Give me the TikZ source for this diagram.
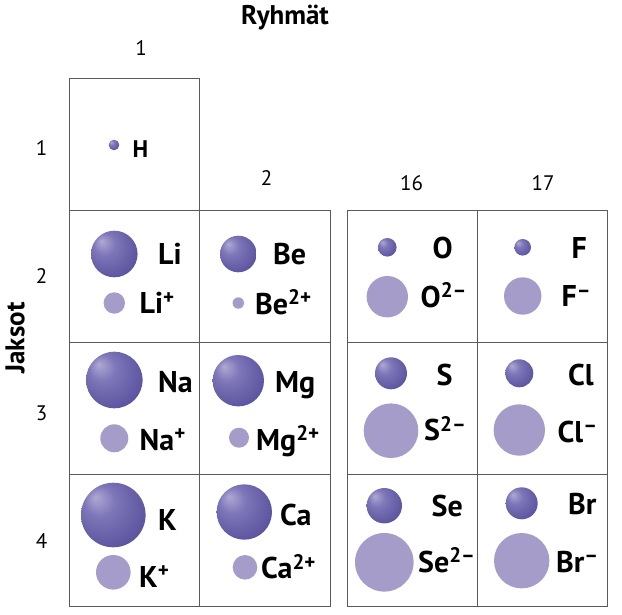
\documentclass[tikz,border=0pt]{standalone}
\usepackage{fontspec}
\setmainfont{PT Sans}
\definecolor{atomdark}{HTML}{5B539E}
\definecolor{atommid}{HTML}{7D76B8}
\definecolor{atomlight}{HTML}{AFA9D3}
\definecolor{ioncol}{HTML}{A59CC9}
\definecolor{gridcol}{HTML}{5A5A5A}
\pgfdeclareradialshading{atomshade}{\pgfpoint{-14bp}{14bp}}{%
  color(0bp)=(atomlight); color(12bp)=(atommid); color(32bp)=(atomdark); color(50bp)=(atomdark)}
\tikzset{
  atom/.style={circle, inner sep=0pt, minimum size=#1, shading=atomshade, draw=none},
  ion/.style={circle, inner sep=0pt, minimum size=#1, fill=ioncol, draw=none},
  sym/.style={anchor=base west, inner sep=0pt, font=\fontsize{30}{32}\selectfont\bfseries},
  num/.style={inner sep=0pt, font=\fontsize{21}{24}\selectfont},
  head/.style={inner sep=0pt, font=\fontsize{27}{30}\selectfont\bfseries},
  cell/.style={draw=gridcol, line width=0.9pt}
}
\newcommand{\chg}[1]{\textsuperscript{#1}}
\begin{document}
\begin{tikzpicture}[x=1pt,y=-1pt]
\useasboundingbox (0,0) rectangle (622,614);
% grid
\draw[cell] (69,78) rectangle (199,210);
\draw[cell] (69,210) rectangle (330,606);
\draw[cell] (199,210) -- (199,606);
\draw[cell] (69,342) -- (330,342);
\draw[cell] (69,474) -- (330,474);
\draw[cell] (347,210) rectangle (607,606);
\draw[cell] (477,210) -- (477,606);
\draw[cell] (347,342) -- (607,342);
\draw[cell] (347,474) -- (607,474);
% headings
\node[head] (ryh) at (285,18) {Ryhmät};
\node[head, rotate=90] (jak) at (15,338) {Jaksot};
\node[num] (g1) at (141,48) {1};
\node[num] (g2) at (266.5,178) {2};
\node[num] (g16) at (411.5,183) {16};
\node[num] (g17) at (543,183) {17};
\node[num] (p1) at (41.5,148.5) {1};
\node[num] (p2) at (41.5,276.5) {2};
\node[num] (p3) at (41.5,413) {3};
\node[num] (p4) at (41.5,541.5) {4};
% H
\node[atom=10.6pt] (H) at (114,145) {};
\node[sym, font=\fontsize{24}{26}\selectfont\bfseries] (HL) at (132.5,157) {H};
% Li
\node[atom=46.6pt] (Li) at (114.3,254) {};
\node[sym] (LiL) at (158,264.5) {Li};
\node[ion=21.4pt] (Lii) at (114.3,303) {};
\node[sym] (LiiL) at (139.5,313.5) {Li\chg{+}};
% Be
\node[atom=36.6pt] (Be) at (238.3,254) {};
\node[sym] (BeL) at (273,264.5) {Be};
\node[ion=11.4pt] (Bei) at (238.3,303) {};
\node[sym] (BeiL) at (255,314) {Be\chg{2+}};
% Na
\node[atom=56.6pt] (Na) at (114.3,380) {};
\node[sym] (NaL) at (158,392) {Na};
\node[ion=28pt] (Nai) at (114.3,438.3) {};
\node[sym] (NaiL) at (139.5,450) {Na\chg{+}};
% Mg
\node[atom=51.4pt] (Mg) at (238.3,380.7) {};
\node[sym] (MgL) at (275,392) {Mg};
\node[ion=20pt] (Mgi) at (239,437.7) {};
\node[sym] (MgiL) at (256,450) {Mg\chg{2+}};
% K
\node[atom=64.6pt] (K) at (113.3,515) {};
\node[sym] (KL) at (158,530.5) {K};
\node[ion=34.6pt] (Ki) at (113.3,572.3) {};
\node[sym] (KiL) at (139,587) {K\chg{+}};
% Ca
\node[atom=55.4pt] (Ca) at (244.3,512) {};
\node[sym] (CaL) at (280,525.5) {Ca};
\node[ion=24.6pt] (Cai) at (245,567.3) {};
\node[sym] (CaiL) at (261,578.5) {Ca\chg{2+}};
% O
\node[atom=18.6pt] (O) at (387.3,247.3) {};
\node[sym] (OL) at (432.5,258.5) {O};
\node[ion=41.4pt] (Oi) at (387.3,296.7) {};
\node[sym] (OiL) at (420.5,307) {O\chg{2–}};
% F
\node[atom=16.6pt] (F) at (522.7,247.3) {};
\node[sym] (FL) at (571.5,258.5) {F};
\node[ion=37.4pt] (Fi) at (522.7,296) {};
\node[sym] (FiL) at (561.5,306.5) {F\chg{–}};
% S
\node[atom=32pt] (S) at (391,373.3) {};
\node[sym] (SL) at (436.5,385.5) {S};
\node[ion=54.6pt] (Si) at (391,430.7) {};
\node[sym] (SiL) at (424,440.5) {S\chg{2–}};
% Cl
\node[atom=28pt] (Cl) at (519.3,373.3) {};
\node[sym] (ClL) at (568,385.5) {Cl};
\node[ion=51.4pt] (Cli) at (519.3,430) {};
\node[sym] (CliL) at (557.5,442) {Cl\chg{–}};
% Se
\node[atom=35.4pt] (Se) at (384.3,505.7) {};
\node[sym] (SeL) at (431.5,516) {Se};
\node[ion=58.6pt] (Sei) at (384.3,562.3) {};
\node[sym] (SeiL) at (418,572) {Se\chg{2–}};
% Br
\node[atom=32pt] (Br) at (521.7,503.3) {};
\node[sym] (BrL) at (568,514) {Br};
\node[ion=55.4pt] (Bri) at (521.7,560.7) {};
\node[sym] (BriL) at (556,572) {Br\chg{–}};
\end{tikzpicture}
\end{document}
